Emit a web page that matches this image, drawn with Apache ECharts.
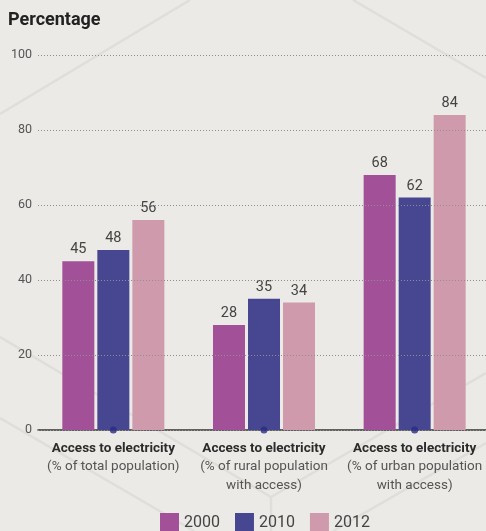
<!DOCTYPE html>
<html>
<head>
<meta charset="utf-8">
<title>Access to electricity</title>
<script src="https://cdn.jsdelivr.net/npm/echarts@6/dist/echarts.min.js"></script>
<style>
  html, body { margin: 0; padding: 0; background: #ebeae6; }
  #chart { width: 486px; height: 531px; }
</style>
</head>
<body>
<div id="chart"></div>
<script>
// Category labels: bold heading on the first line, grey note below
const categories = [
  'Access to electricity\n(% of total population)',
  'Access to electricity\n(% of rural population\nwith access)',
  'Access to electricity\n(% of urban population\nwith access)'
];
const years = ['2000', '2010', '2012'];
const values2000 = [45, 28, 68];
const values2010 = [48, 35, 62];
const values2012 = [56, 34, 84];
const yTicks = [0, 20, 40, 60, 80, 100];
const yearColors = ['#a25097', '#474690', '#cf9bac'];

const FONT = "Roboto, 'Liberation Sans', sans-serif";

// Faint isometric strokes in the backdrop
const bgLines = [
  [190, 0, 0, 114],
  [353, 0, 486, 78],
  [0, 337, 271, 497],
  [271, 497, 271, 531],
  [271, 497, 486, 373],
  [0, 418, 194, 531],
  [486, 443, 333, 531]
];

const chart = echarts.init(document.getElementById('chart'), null, { renderer: 'canvas' });

function barSeries(name, data, color) {
  return {
    name: name,
    type: 'bar',
    data: data,
    barWidth: 32,
    barGap: '9.4%',
    itemStyle: { color: color },
    label: {
      show: true,
      position: 'top',
      distance: 4,
      fontFamily: FONT,
      fontSize: 14.5,
      color: '#444'
    }
  };
}

chart.setOption({
  backgroundColor: '#ebeae6',
  animation: false,
  textStyle: { fontFamily: FONT },
  graphic: bgLines.map(function (l) {
    return {
      type: 'line',
      z: -10,
      silent: true,
      shape: { x1: l[0], y1: l[1], x2: l[2], y2: l[3] },
      style: { stroke: '#dfdeda', lineWidth: 2.5 }
    };
  }),
  title: {
    text: 'Percentage',
    left: 8,
    top: 11,
    padding: 0,
    textStyle: { fontFamily: FONT, fontSize: 18, fontWeight: 'bold', color: '#222' }
  },
  legend: {
    data: years,
    left: 160,
    top: 513,
    padding: 0,
    itemWidth: 19,
    itemHeight: 19,
    itemGap: 15,
    icon: 'rect',
    textStyle: { fontFamily: FONT, fontSize: 16, color: '#444' }
  },
  grid: { left: 38, top: 55, width: 452, height: 375, containLabel: false, outerBoundsMode: 'none' },
  xAxis: {
    type: 'category',
    data: categories,
    axisTick: { show: false },
    axisLine: { show: true, lineStyle: { color: '#333', width: 1.5 } },
    axisLabel: {
      interval: 0,
      margin: 9,
      lineHeight: 18.5,
      formatter: function (value) {
        const lines = value.split('\n');
        const head = '{b|' + lines[0] + '}';
        const rest = lines.slice(1).map(function (s) { return '{s|' + s + '}'; });
        return [head].concat(rest).join('\n');
      },
      rich: {
        b: { fontFamily: FONT, fontSize: 13.5, fontWeight: 'bold', color: '#2b2b2b', lineHeight: 18.5 },
        s: { fontFamily: FONT, fontSize: 13.5, color: '#555', lineHeight: 18.5 }
      }
    }
  },
  yAxis: {
    type: 'value',
    min: yTicks[0],
    max: yTicks[yTicks.length - 1],
    interval: yTicks[1] - yTicks[0],
    z: 3,
    axisLine: { show: false },
    axisTick: { show: false },
    axisLabel: { margin: 6, fontFamily: FONT, fontSize: 12.5, color: '#555' },
    splitLine: { show: true, lineStyle: { color: '#8f8f8f', width: 1, type: [1, 2] } }
  },
  series: [
    barSeries(years[0], values2000, yearColors[0]),
    barSeries(years[1], values2010, yearColors[1]),
    barSeries(years[2], values2012, yearColors[2]),
    {
      // baseline markers at each category centre
      name: 'baseline',
      type: 'scatter',
      data: categories.map(function () { return yTicks[0]; }),
      symbol: 'circle',
      symbolSize: 7,
      itemStyle: { color: '#2b2a85' },
      z: 5,
      silent: true
    }
  ]
});
</script>
</body>
</html>
